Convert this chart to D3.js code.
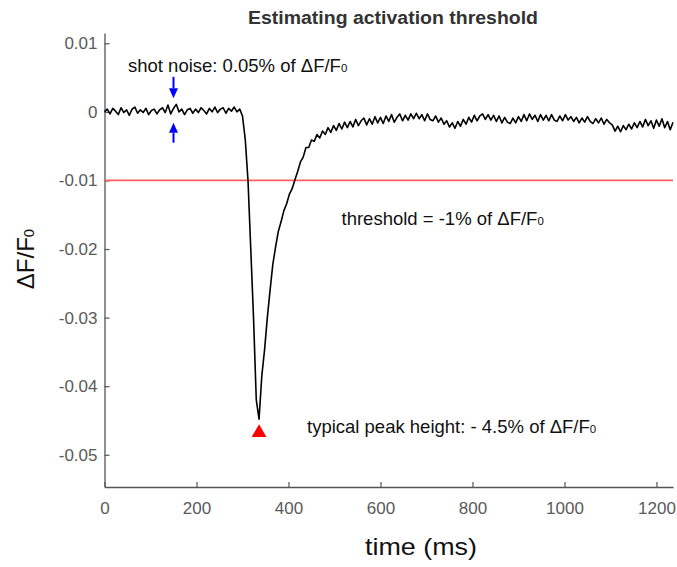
<!DOCTYPE html>
<html>
<head>
<meta charset="utf-8">
<script src="https://cdn.jsdelivr.net/npm/d3@7"></script>
<style>
  html, body { margin: 0; padding: 0; background: #fff; }
  svg { display: block; font-family: "Liberation Sans", Arial, Helvetica, sans-serif; }
</style>
</head>
<body>
<svg id="chart"></svg>
<script>
// Estimating activation threshold – ΔF/F0 trace with threshold and noise annotations

const width = 677, height = 567;
const margin = { top: 33, right: 4, bottom: 80, left: 104.5 };
const innerWidth  = width  - margin.left - margin.right;
const innerHeight = height - margin.top  - margin.bottom;

const sampleMs = 6;
const dff = [
  0.0000, 0.0004, -0.0003, 0.0005, 0.0001, -0.0004, 0.0006, -0.0001, 0.0003, -0.0005,
  0.0004, 0.0007, -0.0002, 0.0003, -0.0001, 0.0005, -0.0004, 0.0002, 0.0004, -0.0003,
  0.0003, 0.0006, -0.0001, 0.0010, -0.0003, 0.0005, 0.0011, 0.0000, 0.0004, -0.0004,
  0.0003, 0.0005, -0.0002, 0.0004, -0.0001, 0.0006, 0.0002, -0.0003, 0.0005, 0.0000,
  0.0007, -0.0001, 0.0004, 0.0006, -0.0002, 0.0005, 0.0001, 0.0007, 0.0000, 0.0004,
  -0.0006, -0.0040, -0.0100, -0.0200, -0.0300, -0.0420, -0.0448, -0.0385, -0.0347, -0.0300,
  -0.0260, -0.0222, -0.0197, -0.0174, -0.0160, -0.0144, -0.0134, -0.0120, -0.0112, -0.0099,
  -0.0087, -0.0073, -0.0066, -0.0052, -0.0052, -0.0041, -0.0043, -0.0033, -0.0038, -0.0028,
  -0.0033, -0.0023, -0.0030, -0.0020, -0.0027, -0.0017, -0.0025, -0.0015, -0.0023, -0.0014,
  -0.0022, -0.0011, -0.0020, -0.0013, -0.0009, -0.0019, -0.0010, -0.0018, -0.0007, -0.0016,
  -0.0008, -0.0017, -0.0006, -0.0014, -0.0004, -0.0015, -0.0008, -0.0003, -0.0013, -0.0005,
  -0.0012, -0.0003, -0.0010, -0.0002, -0.0010, -0.0004, -0.0013, -0.0003, -0.0011, -0.0013,
  -0.0006, -0.0015, -0.0009, -0.0018, -0.0013, -0.0022, -0.0016, -0.0024, -0.0014, -0.0021,
  -0.0011, -0.0018, -0.0008, -0.0015, -0.0005, -0.0013, -0.0006, -0.0003, -0.0011, -0.0004,
  -0.0012, -0.0005, -0.0014, -0.0006, -0.0016, -0.0008, -0.0015, -0.0017, -0.0009, -0.0016,
  -0.0007, -0.0014, -0.0004, -0.0013, -0.0003, -0.0011, -0.0005, -0.0014, -0.0004, -0.0012,
  -0.0005, -0.0013, -0.0004, -0.0012, -0.0014, -0.0006, -0.0013, -0.0004, -0.0012, -0.0007,
  -0.0014, -0.0008, -0.0016, -0.0009, -0.0015, -0.0007, -0.0014, -0.0017, -0.0010, -0.0016,
  -0.0009, -0.0018, -0.0011, -0.0016, -0.0019, -0.0028, -0.0021, -0.0029, -0.0020, -0.0026,
  -0.0018, -0.0025, -0.0016, -0.0023, -0.0014, -0.0022, -0.0011, -0.0020, -0.0013, -0.0024,
  -0.0012, -0.0021, -0.0010, -0.0023, -0.0014, -0.0026, -0.0015
];

const xTicks = [0, 200, 400, 600, 800, 1000, 1200];
const yTicks = [0.01, 0, -0.01, -0.02, -0.03, -0.04, -0.05];
const yTickLabels = ["0.01", "0", "-0.01", "-0.02", "-0.03", "-0.04", "-0.05"];

const threshold = -0.01;
const peakMarker = { t: 336, v: -0.0468 };
const noiseArrowT = 150;
const noiseArrowDown = [0.0051, 0.0020];   // tail, tip
const noiseArrowUp   = [-0.0045, -0.0016]; // tail, tip

const svg = d3.select("#chart")
  .attr("width", width)
  .attr("height", height);

const g = svg.append("g")
  .attr("transform", `translate(${margin.left},${margin.top})`);

const x = d3.scaleLinear()
  .domain([0, 1236])
  .range([0, innerWidth]);

const y = d3.scaleLinear()
  .domain([-0.0547, 0.0115])
  .range([innerHeight, 0]);

// axes (MATLAB style, ticks inward, no box)
const axisColor = "#555";

const xAxis = g.append("g")
  .attr("transform", `translate(0,${innerHeight})`)
  .call(d3.axisBottom(x).tickValues(xTicks).tickFormat(d3.format("d"))
    .tickSizeInner(-5).tickSizeOuter(0).tickPadding(15));

const yAxis = g.append("g")
  .call(d3.axisLeft(y).tickValues(yTicks).tickFormat((d, i) => yTickLabels[i])
    .tickSizeInner(-5).tickSizeOuter(0).tickPadding(7));

[xAxis, yAxis].forEach(ax => {
  ax.select(".domain").attr("stroke", axisColor).attr("stroke-width", 1.3);
  ax.selectAll(".tick line").attr("stroke", axisColor).attr("stroke-width", 1.2);
  ax.selectAll(".tick text")
    .attr("fill", "#5a5a5a")
    .style("font-size", "17px")
    .style("font-family", "'Liberation Sans', Arial, sans-serif");
});

// threshold line
g.append("line")
  .attr("x1", x(0)).attr("x2", x(1236))
  .attr("y1", y(threshold)).attr("y2", y(threshold))
  .attr("stroke", "#ff5f5f")
  .attr("stroke-width", 1.8);

// trace
const line = d3.line()
  .x((d, i) => x(i * sampleMs))
  .y(d => y(d));

g.append("path")
  .datum(dff)
  .attr("fill", "none")
  .attr("stroke", "#000")
  .attr("stroke-width", 1.6)
  .attr("stroke-linejoin", "round")
  .attr("d", line);

// peak marker
g.append("path")
  .attr("d", d3.symbol().type(d3.symbolTriangle).size(95))
  .attr("transform", `translate(${x(peakMarker.t)},${y(peakMarker.v)})`)
  .attr("fill", "#ff0000");

// shot noise arrows
function arrow(tail, tip) {
  const ax = x(noiseArrowT), y0 = y(tail), y1 = y(tip);
  const dir = Math.sign(y1 - y0);
  const headLen = 10, headHalf = 4.5;
  g.append("line")
    .attr("x1", ax).attr("x2", ax)
    .attr("y1", y0).attr("y2", y1 - dir * headLen)
    .attr("stroke", "#0000ff").attr("stroke-width", 2);
  g.append("path")
    .attr("d", `M${ax - headHalf},${y1 - dir * headLen}L${ax + headHalf},${y1 - dir * headLen}L${ax},${y1}Z`)
    .attr("fill", "#0000ff");
}
arrow(noiseArrowDown[0], noiseArrowDown[1]);
arrow(noiseArrowUp[0], noiseArrowUp[1]);

// annotation texts
function dfLabel(sel, prefix) {
  sel.append("tspan").text(prefix + "ΔF/F");
  sel.append("tspan").text("0").style("font-size", "0.62em");
}

const annFont = "18.5px";
dfLabel(svg.append("text")
  .attr("x", 128).attr("y", 72)
  .style("font-size", annFont).attr("fill", "#111"), "shot noise: 0.05% of ");

dfLabel(svg.append("text")
  .attr("x", 341.5).attr("y", 225)
  .style("font-size", annFont).attr("fill", "#111"), "threshold = -1% of ");

dfLabel(svg.append("text")
  .attr("x", 307).attr("y", 433)
  .style("font-size", annFont).attr("fill", "#111"), "typical peak height: - 4.5% of ");

// title
svg.append("text")
  .attr("x", 393).attr("y", 24)
  .attr("text-anchor", "middle")
  .attr("textLength", 290).attr("lengthAdjust", "spacingAndGlyphs")
  .style("font-size", "18px").style("font-weight", "bold")
  .attr("fill", "#333")
  .text("Estimating activation threshold");

// axis labels
svg.append("text")
  .attr("x", 365).attr("y", 555)
  .attr("textLength", 112).attr("lengthAdjust", "spacingAndGlyphs")
  .style("font-size", "24px").attr("fill", "#111")
  .text("time (ms)");

const yLab = svg.append("text")
  .attr("transform", "translate(34,259) rotate(-90)")
  .attr("text-anchor", "middle")
  .style("font-size", "24px").attr("fill", "#111");
dfLabel(yLab, "");
</script>
</body>
</html>
